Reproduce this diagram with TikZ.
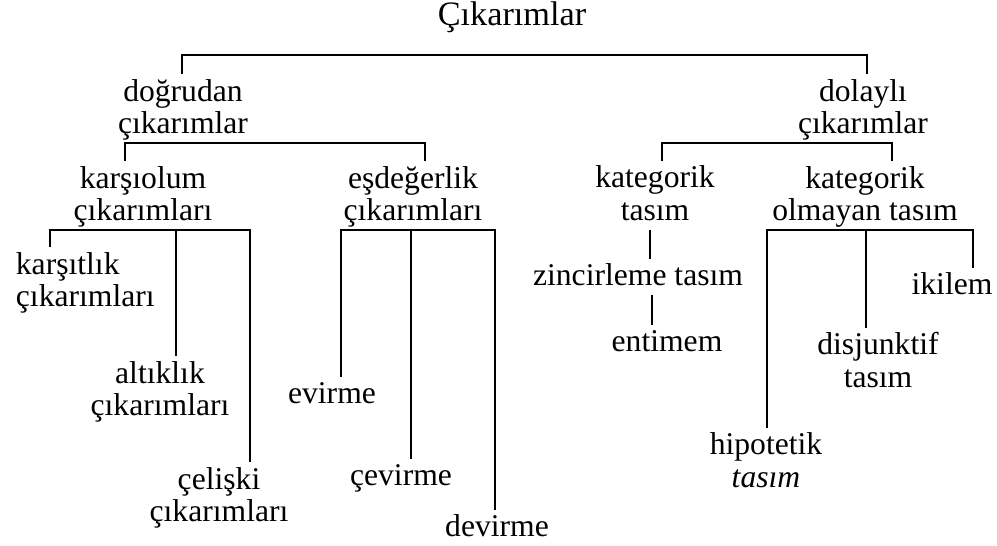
\documentclass[tikz,border=0pt]{standalone}
\usepackage{fontspec}
\setmainfont{Liberation Serif}
\usepackage{tikz}
\tikzstyle{term}=[font=\fontsize{18}{18.5}\selectfont,align=center,inner sep=2pt]
\tikzstyle{head}=[font=\fontsize{19.5}{22}\selectfont,inner sep=2pt]

\begin{document}
\begin{tikzpicture}[x=0.02cm,y=-0.02cm]
\tikzstyle{every path}=[line width=1.6pt]
\useasboundingbox (0,0) rectangle (997,546);

\node (T) [head,anchor=base] at (512,26) {Çıkarımlar};

\node (D) [term] at (183,110) {doğrudan\\çıkarımlar};
\node (L) [term] at (863,110) {dolaylı\\çıkarımlar};

\node (K) [term] at (143,197) {karşıolum\\çıkarımları};
\node (E) [term] at (413,197) {eşdeğerlik\\çıkarımları};
\node (KT) [term] at (655,193) {kategorik\\tasım};
\node (KO) [term] at (865,197) {kategorik\\olmayan tasım};

\node (K1) [term,align=left,anchor=west] at (11,283) {karşıtlık\\çıkarımları};
\node (K2) [term] at (160,392) {altıklık\\çıkarımları};
\node (K3) [term] at (219,498) {çelişki\\çıkarımları};

\node (E1) [term] at (332,393) {evirme};
\node (E2) [term] at (401,478) {çevirme};
\node (E3) [term] at (497,526) {devirme};

\node (Z) [term] at (638,275) {zincirleme tasım};
\node (EN) [term] at (667,341) {entimem};

\node (I) [term] at (952,284) {ikilem};
\node (DJ) [term] at (878,360) {disjunktif\\tasım};
\node (H) [term] at (766,460) {hipotetik\\\textit{tasım}};

\coordinate (a1) at (182,55);
\coordinate (a2) at (867,55);
\draw (a1 |- D.north) -- (a1) -- (a2) -- (a2 |- L.north);

\coordinate (b1) at (125,143);
\coordinate (b2) at (425,143);
\draw (b1 |- K.north) -- (b1) -- (b2) -- (b2 |- E.north);

\coordinate (c1) at (662,143);
\coordinate (c2) at (892,143);
\draw (c1 |- KT.north) -- (c1) -- (c2) -- (c2 |- KO.north);

\coordinate (k1) at (50,230);
\coordinate (k2) at (176,230);
\coordinate (k3) at (250,230);
\draw (k1 |- K1.north) -- (k1) -- (k3) -- (k3 |- K3.north);
\draw (k2) -- (k2 |- K2.north);

\coordinate (e1) at (341,230);
\coordinate (e2) at (411,230);
\coordinate (e3) at (495,230);
\draw (e1 |- E1.north) -- (e1) -- (e3) -- (e3 |- E3.north);
\draw (e2) -- (e2 |- E2.north);

\coordinate (z1) at (650,230);
\coordinate (z2) at (652,295);
\draw (z1) -- (z1 |- Z.north);
\draw (z2) -- (z2 |- EN.north);

\coordinate (o1) at (767,230);
\coordinate (o2) at (866,230);
\coordinate (o3) at (973,230);
\draw (o1 |- H.north) -- (o1) -- (o3) -- (o3 |- I.north);
\draw (o2) -- (o2 |- DJ.north);
\end{tikzpicture}
\end{document}
